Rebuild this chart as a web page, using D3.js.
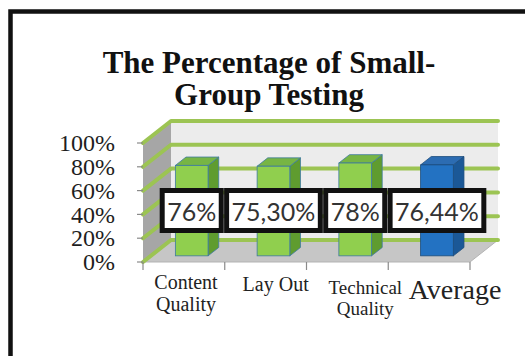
<!DOCTYPE html>
<html>
<head>
<meta charset="utf-8">
<script src="https://cdn.jsdelivr.net/npm/d3@7/dist/d3.min.js"></script>
<style>
  html, body { margin: 0; padding: 0; background: #fff; }
  svg { display: block; }
</style>
</head>
<body>
<svg id="chart" width="525" height="356"></svg>
<script>
// ---- data ----
const categories = ["Content\nQuality", "Lay Out", "Technical\nQuality", "Average"];
const values = [76, 75.3, 78, 76.44];           // percent
const valueLabels = ["76%", "75,30%", "78%", "76,44%"];
const yTicks = [0, 20, 40, 60, 80, 100];
const yTickLabels = ["0%", "20%", "40%", "60%", "80%", "100%"];
const titleLines = ["The Percentage of Small-", "Group Testing"];

// ---- layout ----
const svg = d3.select("#chart");
const W = 525, H = 356;
const DX = 28, DY = -22;          // depth offset of the 3-D box
const x0 = 143, x1 = 470;         // front edge of the floor
const y = d3.scaleLinear().domain([0, 100]).range([262, 143]);
const x = d3.scaleBand().domain(categories).range([x0, x1]).paddingInner(0).paddingOuter(0);
const labelX = d3.scalePoint().domain(categories).range([186, 455]);
const barFrac = 0.4, f0 = 0.28, f1 = 0.66;

// frame
svg.append("rect").attr("width", W).attr("height", H).attr("fill", "#fff");
svg.append("path")
  .attr("d", `M10.5,${H} V11.5 H${W}`)
  .attr("fill", "none").attr("stroke", "#111").attr("stroke-width", 4.5);

// title
svg.append("g").selectAll("text").data(titleLines).join("text")
  .attr("x", 269).attr("y", (d, i) => 73 + i * 32)
  .attr("text-anchor", "middle")
  .attr("font-family", "Liberation Serif, Times New Roman, serif")
  .attr("font-weight", "bold").attr("font-size", 31)
  .attr("fill", "#111")
  .text(d => d);

const pts = a => a.map(p => p.join(",")).join(" ");
const yb0 = y(0), yb1 = y(100);

// back wall
svg.append("polygon")
  .attr("points", pts([[x0 + DX, yb1 + DY], [x1 + DX, yb1 + DY], [x1 + DX, yb0 + DY], [x0 + DX, yb0 + DY]]))
  .attr("fill", "#ececec");
// side wall
svg.append("polygon")
  .attr("points", pts([[x0, yb1], [x0 + DX, yb1 + DY], [x0 + DX, yb0 + DY], [x0, yb0]]))
  .attr("fill", "#a6a6a6");
// floor
svg.append("polygon")
  .attr("points", pts([[x0, yb0], [x1, yb0], [x1 + DX, yb0 + DY], [x0 + DX, yb0 + DY]]))
  .attr("fill", "#c6c6c6").attr("stroke", "#b3b3b3").attr("stroke-width", 1);

// gridlines along side and back walls
svg.append("g").selectAll("path").data(yTicks).join("path")
  .attr("d", t => `M${x0},${y(t)} L${x0 + DX},${y(t) + DY} L${x1 + DX},${y(t) + DY}`)
  .attr("fill", "none").attr("stroke", "#9cc453").attr("stroke-width", 4)
  .attr("stroke-linecap", "round").attr("stroke-linejoin", "round");

// y ticks and labels
svg.append("g").selectAll("line").data(yTicks).join("line")
  .attr("x1", x0 - 6).attr("x2", x0).attr("y1", d => y(d)).attr("y2", d => y(d))
  .attr("stroke", "#8a8a8a").attr("stroke-width", 1.2);
svg.append("g").selectAll("text").data(yTicks).join("text")
  .attr("x", 115).attr("y", d => y(d)).attr("dy", "0.34em")
  .attr("text-anchor", "end")
  .attr("font-family", "Liberation Serif, Times New Roman, serif")
  .attr("font-size", 24).attr("fill", "#1e1e1e")
  .text((d, i) => yTickLabels[i]);

// x ticks
const xTickPos = categories.map(c => x(c)).concat([x1]);
svg.append("g").selectAll("line").data(xTickPos).join("line")
  .attr("x1", d => d).attr("x2", d => d).attr("y1", yb0).attr("y2", yb0 + 8)
  .attr("stroke", "#8a8a8a").attr("stroke-width", 1.2);

// bars
const bw = x.bandwidth() * barFrac;
const dd = f1 - f0;
const colors = [
  { front: "#90cf4e", side: "#5f9c2f", top: "#77b544", edge: "#3e7aa0" },
  { front: "#90cf4e", side: "#5f9c2f", top: "#77b544", edge: "#3e7aa0" },
  { front: "#90cf4e", side: "#5f9c2f", top: "#77b544", edge: "#3e7aa0" },
  { front: "#2372c2", side: "#1b5897", top: "#2c6cb2", edge: "#1d4d7c" }
];
const bars = svg.append("g").selectAll("g").data(categories).join("g");
bars.each(function (c, i) {
  const g = d3.select(this);
  const xl = x(c) + (x.bandwidth() - bw) / 2 + f0 * DX;
  const xr = xl + bw;
  const yt = y(values[i]) + f0 * DY;
  const yb = y(0) + f0 * DY;
  const col = colors[i];
  g.append("polygon")
    .attr("points", pts([[xr, yt], [xr + dd * DX, yt + dd * DY], [xr + dd * DX, yb + dd * DY], [xr, yb]]))
    .attr("fill", col.side).attr("stroke", col.edge).attr("stroke-width", 0.8);
  g.append("polygon")
    .attr("points", pts([[xl, yt], [xr, yt], [xr + dd * DX, yt + dd * DY], [xl + dd * DX, yt + dd * DY]]))
    .attr("fill", col.top).attr("stroke", col.edge).attr("stroke-width", 0.8);
  g.append("rect")
    .attr("x", xl).attr("y", yt).attr("width", bw).attr("height", yb - yt)
    .attr("fill", col.front).attr("stroke", col.edge).attr("stroke-width", 0.8);
});

// value labels in boxed callouts
const labG = svg.append("g");
categories.forEach((c, i) => {
  const cx = x(c) + x.bandwidth() / 2 + f0 * DX;
  const g = labG.append("g");
  const rect = g.append("rect");
  const t = g.append("text")
    .attr("x", cx).attr("y", 221)
    .attr("text-anchor", "middle")
    .attr("font-family", "Lato, Open Sans, sans-serif")
    .attr("font-size", 25).attr("fill", "#333")
    .text(valueLabels[i]);
  const bb = t.node().getBBox();
  rect.attr("x", bb.x - 5).attr("y", 190.5).attr("width", bb.width + 10).attr("height", 40)
    .attr("fill", "#fff").attr("stroke", "#111").attr("stroke-width", 5);
});

// category labels
const catSize = { "Content\nQuality": 20, "Lay Out": 20, "Technical\nQuality": 19, "Average": 28 };
const catTop = { "Content\nQuality": 275, "Lay Out": 277, "Technical\nQuality": 281, "Average": 280 };
svg.append("g").selectAll("text").data(categories).join("text")
  .attr("font-family", "Liberation Serif, Times New Roman, serif")
  .attr("font-size", c => catSize[c]).attr("fill", "#222")
  .attr("text-anchor", "middle")
  .each(function (c) {
    const fs = catSize[c];
    const base = catTop[c] + fs * 0.68;
    d3.select(this).selectAll("tspan").data(c.split("\n")).join("tspan")
      .attr("x", labelX(c)).attr("y", (d, k) => base + k * fs * 1.1)
      .text(d => d);
  });
</script>
</body>
</html>
